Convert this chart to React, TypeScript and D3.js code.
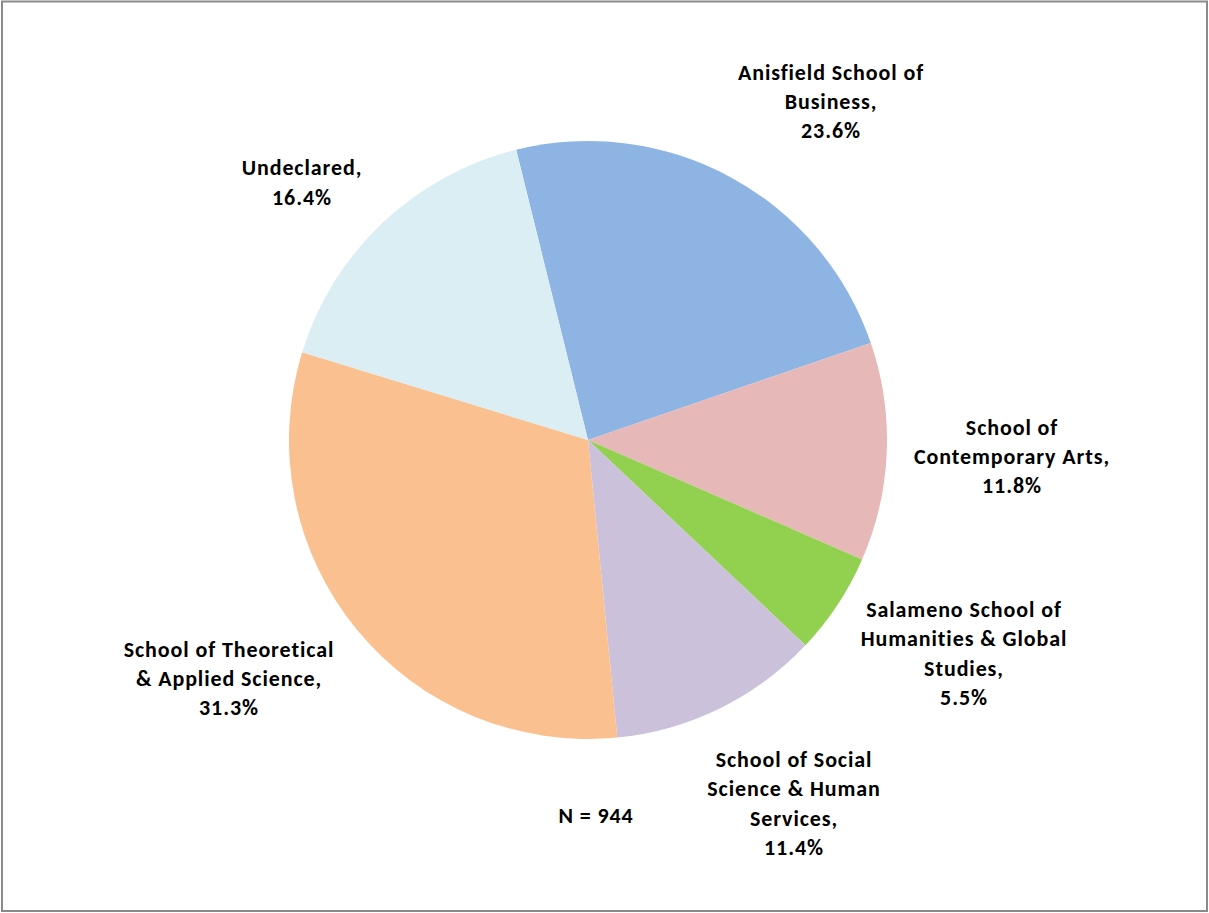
import React from "react";
import * as d3 from "d3";

const categories = [
  "Anisfield School of Business",
  "School of Contemporary Arts",
  "Salameno School of Humanities & Global Studies",
  "School of Social Science & Human Services",
  "School of Theoretical & Applied Science",
  "Undeclared",
];
const values = [23.6, 11.8, 5.5, 11.4, 31.3, 16.4];
const labelLines = [
  ["Anisfield School of", "Business,", "23.6%"],
  ["School of", "Contemporary Arts,", "11.8%"],
  ["Salameno School of", "Humanities & Global", "Studies,", "5.5%"],
  ["School of Social", "Science & Human", "Services,", "11.4%"],
  ["School of Theoretical", "& Applied Science,", "31.3%"],
  ["Undeclared,", "16.4%"],
];
const colors = ["#8EB4E3", "#E6B9B8", "#92D050", "#CCC1DA", "#FAC090", "#DBEEF4"];
// label anchor (center of text block)
const labelCenters: [number, number][] = [
  [831, 101],
  [1012, 456],
  [964, 653],
  [794, 803],
  [229, 678],
  [302, 182],
];
const noteText = "N = 944";

const W = 1209;
const H = 913;
const cx = 588;
const cy = 440;
const R = 299;
const startDeg = -13.9;

export default function App() {
  const pie = d3
    .pie<number>()
    .sort(null)
    .value((d) => d)
    .startAngle((startDeg * Math.PI) / 180)
    .endAngle((startDeg * Math.PI) / 180 + 2 * Math.PI);
  const arcs = pie(values);
  const arcGen = d3.arc<d3.PieArcDatum<number>>().innerRadius(0).outerRadius(R);
  const lh = 29.3;
  const fs = 22;
  const ls = 0.9;
  return (
    <svg
      width={W}
      height={H}
      style={{ position: "absolute", left: 0, top: 0 }}
      fontFamily="Carlito, Calibri, Lato, sans-serif"
    >
      <rect x={0} y={0} width={W} height={H} fill="#fff" />
      <rect x={2} y={1.5} width={W - 4} height={H - 3.5} fill="none" stroke="#8a8a8a" strokeWidth={2} />
      <g transform={`translate(${cx},${cy})`}>
        {arcs.map((a, i) => (
          <path key={categories[i]} d={arcGen(a) || ""} fill={colors[i]} />
        ))}
      </g>
      {labelLines.map((lines, i) => {
        const [lx, ly] = labelCenters[i];
        const top = ly - ((lines.length - 1) * lh) / 2;
        return (
          <text key={i} textAnchor="middle" fontWeight="bold" fontSize={fs} letterSpacing={ls} fill="#000">
            {lines.map((t, j) => (
              <tspan key={j} x={lx} y={top + j * lh + 8}>
                {t}
              </tspan>
            ))}
          </text>
        );
      })}
      <text x={596} y={823} textAnchor="middle" fontWeight="bold" fontSize={fs} letterSpacing={ls}>
        {noteText}
      </text>
    </svg>
  );
}
